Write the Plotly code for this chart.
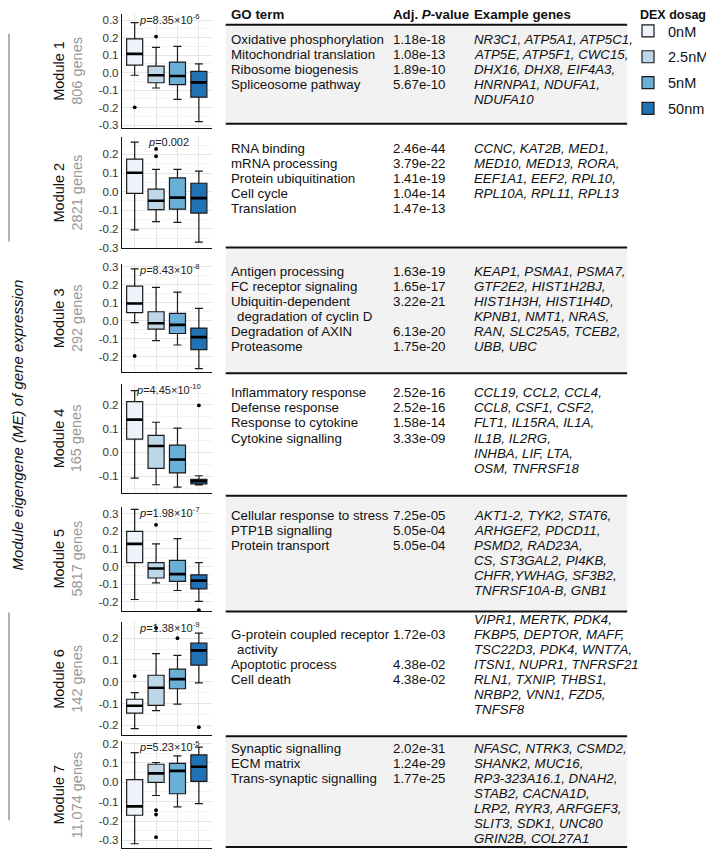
import plotly.graph_objects as go

# The page body adds an 8px margin, so the figure is sized to fill the 714x856 window after it.
PAGE_W, PAGE_H, BODY_MARGIN = 714, 856, 8
W, H = PAGE_W - BODY_MARGIN, PAGE_H - BODY_MARGIN
FONT = "Liberation Sans, Arial, Helvetica, sans-serif"

# ---------------- data ----------------
doses = ["0nM", "2.5nM", "5nM", "50nm"]
dose_colors = ["#eef2fb", "#bdd7e9", "#6baed6", "#2171b5"]
legend_title = "DEX dosage"

modules = ["Module 1", "Module 2", "Module 3", "Module 4", "Module 5", "Module 6", "Module 7"]
gene_counts = ["806 genes", "2821 genes", "292 genes", "165 genes", "5817 genes", "142 genes", "11,074 genes"]
p_labels = ["8.35×10<sup>-6</sup>", "0.002", "8.43×10<sup>-8</sup>", "4.45×10<sup>-10</sup>",
            "1.98×10<sup>-7</sup>", "1.38×10<sup>-9</sup>", "5.23×10<sup>-5</sup>"]

# box statistics: one list per module, 4 dose values each
upper_whisker = [
    [0.286, 0.144, 0.150, 0.050],
    [0.266, 0.119, 0.119, 0.110],
    [0.290, 0.187, 0.160, 0.070],
    [0.260, 0.127, 0.102, -0.098],
    [0.325, 0.129, 0.159, 0.022],
    [-0.050, 0.129, 0.121, 0.223],
    [0.153, 0.102, 0.136, 0.181],
]
q3 = [
    [0.193, 0.037, 0.060, 0.007],
    [0.174, 0.013, 0.074, 0.045],
    [0.193, 0.051, 0.042, -0.040],
    [0.214, 0.072, 0.031, -0.113],
    [0.200, 0.022, 0.035, -0.047],
    [-0.080, 0.030, 0.058, 0.177],
    [0.014, 0.093, 0.098, 0.141],
]
median = [
    [0.107, -0.015, -0.019, -0.056],
    [0.101, -0.049, -0.032, -0.035],
    [0.097, -0.013, -0.022, -0.090],
    [0.138, 0.027, -0.030, -0.121],
    [0.129, -0.011, -0.043, -0.080],
    [-0.110, -0.027, 0.012, 0.144],
    [-0.124, 0.046, 0.059, 0.080],
]
q1 = [
    [0.043, -0.058, -0.069, -0.140],
    [-0.009, -0.097, -0.094, -0.115],
    [0.046, -0.046, -0.070, -0.160],
    [0.056, -0.067, -0.086, -0.132],
    [0.022, -0.065, -0.084, -0.127],
    [-0.144, -0.108, -0.032, 0.076],
    [-0.170, 0.000, -0.059, 0.005],
]
lower_whisker = [
    [-0.015, -0.088, -0.153, -0.280],
    [-0.205, -0.161, -0.165, -0.271],
    [-0.009, -0.110, -0.134, -0.266],
    [-0.108, -0.136, -0.146, -0.137],
    [-0.187, -0.093, -0.136, -0.198],
    [-0.215, -0.132, -0.102, -0.005],
    [-0.317, -0.068, -0.127, -0.110],
]
# outliers: dose index and value per module
outlier_dose = [[0, 1], [1, 1], [0], [3], [1, 3], [0, 1, 2, 3], [1, 1, 1]]
outlier_value = [
    [-0.198, 0.206],
    [0.229, 0.190],
    [-0.195],
    [0.198],
    [0.237, -0.248],
    [0.026, 0.247, 0.200, -0.208],
    [-0.144, -0.166, -0.283],
]

# table data
table_headers = ["GO term", "Adj. <i>P</i>-value", "Example genes"]
go_terms = [
    ["Oxidative phosphorylation", "Mitochondrial translation", "Ribosome biogenesis", "Spliceosome pathway"],
    ["RNA binding", "mRNA processing", "Protein ubiquitination", "Cell cycle", "Translation"],
    ["Antigen processing", "FC receptor signaling", "Ubiquitin-dependent\n degradation of cyclin D",
     "Degradation of AXIN", "Proteasome"],
    ["Inflammatory response", "Defense response", "Response to cytokine", "Cytokine signalling"],
    ["Cellular response to stress", "PTP1B signalling", "Protein transport"],
    ["G-protein coupled receptor\n activity", "Apoptotic process", "Cell death"],
    ["Synaptic signalling", "ECM matrix", "Trans-synaptic signalling"],
]
adj_p = [
    ["1.18e-18", "1.08e-13", "1.89e-10", "5.67e-10"],
    ["2.46e-44", "3.79e-22", "1.41e-19", "1.04e-14", "1.47e-13"],
    ["1.63e-19", "1.65e-17", "3.22e-21", "6.13e-20", "1.75e-20"],
    ["2.52e-16", "2.52e-16", "1.58e-14", "3.33e-09"],
    ["7.25e-05", "5.05e-04", "5.05e-04"],
    ["1.72e-03", "4.38e-02", "4.38e-02"],
    ["2.02e-31", "1.24e-29", "1.77e-25"],
]
example_genes = [
    ["NR3C1, ATP5A1, ATP5C1,", "ATP5E, ATP5F1, CWC15,", "DHX16, DHX8, EIF4A3,", "HNRNPA1, NDUFA1,", "NDUFA10"],
    ["CCNC, KAT2B, MED1,", "MED10, MED13, RORA,", "EEF1A1, EEF2, RPL10,", "RPL10A, RPL11, RPL13"],
    ["KEAP1, PSMA1, PSMA7,", "GTF2E2, HIST1H2BJ,", "HIST1H3H, HIST1H4D,", "KPNB1, NMT1, NRAS,",
     "RAN, SLC25A5, TCEB2,", "UBB, UBC"],
    ["CCL19, CCL2, CCL4,", "CCL8, CSF1, CSF2,", "FLT1, IL15RA, IL1A,", "IL1B, IL2RG,", "INHBA, LIF, LTA,",
     "OSM, TNFRSF18"],
    ["AKT1-2, TYK2, STAT6,", "ARHGEF2, PDCD11,", "PSMD2, RAD23A,", "CS, ST3GAL2, PI4KB,", "CHFR,YWHAG, SF3B2,",
     "TNFRSF10A-B, GNB1"],
    ["VIPR1, MERTK, PDK4,", "FKBP5, DEPTOR, MAFF,", "TSC22D3, PDK4, WNT7A,", "ITSN1, NUPR1, TNFRSF21",
     "RLN1, TXNIP, THBS1,", "NRBP2, VNN1, FZD5,", "TNFSF8"],
    ["NFASC, NTRK3, CSMD2,", "SHANK2, MUC16,", "RP3-323A16.1, DNAH2,", "STAB2, CACNA1D,", "LRP2, RYR3, ARFGEF3,",
     "SLIT3, SDK1, UNC80", "GRIN2B, COL27A1"],
]

# ---------------- layout (window pixel geometry) ----------------
panel_px = [(10, 125), (134, 247), (263, 372), (384, 494), (508, 613), (625, 739), (745, 853)]
y_ranges = [[-0.315, 0.335], [-0.305, 0.295], [-0.285, 0.315], [-0.17, 0.288],
            [-0.25, 0.34], [-0.245, 0.272], [-0.339, 0.212]]
y_tick_ranges = [(-3, 3), (-3, 2), (-2, 3), (-1, 2), (-2, 3), (-2, 2), (-3, 2)]
plot_x0, plot_x1 = 122, 212
sep_px = [21, 121, 246, 373, 497, 614, 740, 852]
go_first = [36, 146, 270, 393, 517, 637, 752]
gene_first = [36, 146, 270, 393, 517, 622, 752]
row_h = 15.2
header_y = 11
col_go, col_p, col_genes = 229, 392, 473
table_x0, table_x1 = 226, 628


def fx(x):
    return (x - BODY_MARGIN) / W


def fy(y):
    return 1 - (y - BODY_MARGIN) / H


def fmt(v):
    s = f"{abs(v):.1f}"
    return ("-" + s) if v < 0 else s


fig = go.Figure()
layout_axes = {}
annotations = []
shapes = []

box_w = 0.75
for m in range(7):
    xa = "x" if m == 0 else f"x{m + 1}"
    ya = "y" if m == 0 else f"y{m + 1}"
    for d in range(4):
        fig.add_trace(go.Box(
            x=[d + 1], q1=[q1[m][d]], median=[median[m][d]], q3=[q3[m][d]],
            lowerfence=[lower_whisker[m][d]], upperfence=[upper_whisker[m][d]],
            fillcolor=dose_colors[d], line=dict(color="#1a1a1a", width=1.2),
            width=box_w, boxpoints=False, name=doses[d], legendgroup=doses[d],
            showlegend=(m == 0), xaxis=xa, yaxis=ya, hoverinfo="skip",
        ))
    mx, my = [], []
    for d in range(4):
        mx += [d + 1 - box_w / 2, d + 1 + box_w / 2, None]
        my += [median[m][d], median[m][d], None]
    fig.add_trace(go.Scatter(x=mx, y=my, mode="lines", line=dict(color="black", width=2.6),
                             showlegend=False, xaxis=xa, yaxis=ya, hoverinfo="skip"))
    fig.add_trace(go.Scatter(x=[d + 1 for d in outlier_dose[m]], y=outlier_value[m], mode="markers",
                             marker=dict(color="black", size=3.8), showlegend=False,
                             xaxis=xa, yaxis=ya, hoverinfo="skip", cliponaxis=False))

    top, bot = panel_px[m]
    lo, hi = y_tick_ranges[m]
    tv = [i / 10 for i in range(lo, hi + 1)]
    minor_tv = [(i + 0.5) / 10 for i in range(lo - 1, hi + 1)]
    key = "" if m == 0 else str(m + 1)
    layout_axes["xaxis" + key] = dict(
        domain=[fx(plot_x0), fx(plot_x1)], range=[0.4, 4.6], anchor=ya,
        tickvals=[1, 2, 3, 4], showticklabels=False, ticks="",
        showgrid=True, gridcolor="#e6e6e6", gridwidth=1,
        showline=True, linecolor="#111", linewidth=1, zeroline=False, fixedrange=True,
    )
    layout_axes["yaxis" + key] = dict(
        domain=[fy(bot), fy(top)], range=y_ranges[m], anchor=xa,
        tickvals=tv, ticktext=[fmt(v) for v in tv], ticks="",
        tickfont=dict(size=11.5, color="#333", family=FONT),
        showgrid=True, gridcolor="#e6e6e6", gridwidth=1,
        minor=dict(tickvals=minor_tv, showgrid=True, gridcolor="#f3f3f3", gridwidth=0.8, ticks=""),
        showline=True, linecolor="#111", linewidth=1, zeroline=False, fixedrange=True,
    )
    # p-value label
    annotations.append(dict(
        text=f"<i>p</i>={p_labels[m]}", xref="paper", x=fx(169), yref=f"{ya} domain", y=1,
        yshift=-5, xanchor="center", yanchor="middle", showarrow=False,
        font=dict(size=11, color="#222", family=FONT)))
    # module labels
    cy = fy((top + bot) / 2)
    annotations.append(dict(text=modules[m], xref="paper", yref="paper", x=fx(59), y=cy,
                            textangle=-90, showarrow=False, xanchor="center", yanchor="middle",
                            font=dict(size=14.5, color="#111", family=FONT)))
    annotations.append(dict(text=gene_counts[m], xref="paper", yref="paper", x=fx(77), y=cy,
                            textangle=-90, showarrow=False, xanchor="center", yanchor="middle",
                            font=dict(size=14.5, color="#999", family=FONT)))

# big y title
annotations.append(dict(text="<i>Module eigengene (ME) of gene expression</i>", xref="paper", yref="paper",
                        x=fx(18), y=fy(425), textangle=-90, showarrow=False,
                        xanchor="center", yanchor="middle", font=dict(size=15, color="#111", family=FONT)))
# grey bracket lines
for y0, y1 in [(30, 240), (615, 825)]:
    shapes.append(dict(type="line", xref="paper", yref="paper", x0=fx(9), x1=fx(9), y0=fy(y0), y1=fy(y1),
                       line=dict(color="#9a9a9a", width=1.5)))

# table backgrounds and separators
for m in range(7):
    if m % 2 == 0:
        shapes.append(dict(type="rect", xref="paper", yref="paper", layer="below",
                           x0=fx(table_x0), x1=fx(table_x1), y0=fy(sep_px[m + 1]), y1=fy(sep_px[m]),
                           fillcolor="#f2f2f2", line=dict(width=0)))
for s in sep_px:
    shapes.append(dict(type="line", xref="paper", yref="paper", x0=fx(table_x0), x1=fx(table_x1),
                       y0=fy(s), y1=fy(s), line=dict(color="#111", width=2)))

TFS = 13.3


def txt(s, x, y, italic=False, bold=False, size=TFS):
    if italic:
        s = f"<i>{s}</i>"
    if bold:
        s = f"<b>{s}</b>"
    annotations.append(dict(text=s, xref="paper", yref="paper", x=fx(x), y=fy(y), xanchor="left",
                            yanchor="middle", showarrow=False, font=dict(size=size, color="#111", family=FONT)))


# header
for h, cx in zip(table_headers, [col_go, col_p, col_genes]):
    txt(h, cx, header_y, bold=True)
# legend title
txt(legend_title, 639, header_y, bold=True, size=12.5)

for m in range(7):
    row = 0
    for term, pv in zip(go_terms[m], adj_p[m]):
        parts = term.split("\n")
        txt(pv, col_p, go_first[m] + row * row_h)
        for part in parts:
            indent = part.startswith(" ")
            txt(part.strip(), col_go + (6 if indent else 0), go_first[m] + row * row_h)
            row += 1
    for i, g in enumerate(example_genes[m]):
        txt(g, col_genes, gene_first[m] + i * row_h, italic=True)

fig.update_layout(
    width=W, height=H, margin=dict(l=0, r=0, t=0, b=0),
    paper_bgcolor="white", plot_bgcolor="white",
    font=dict(family=FONT, color="#111"),
    boxmode="overlay",
    showlegend=True,
    legend=dict(x=fx(629), y=fy(11), xanchor="left", yanchor="top",
                font=dict(size=14.5, family=FONT, color="#111"), tracegroupgap=4,
                bgcolor="rgba(0,0,0,0)", itemwidth=30, traceorder="grouped"),
    annotations=annotations, shapes=shapes,
    **layout_axes,
)

fig.write_html("out.html")
